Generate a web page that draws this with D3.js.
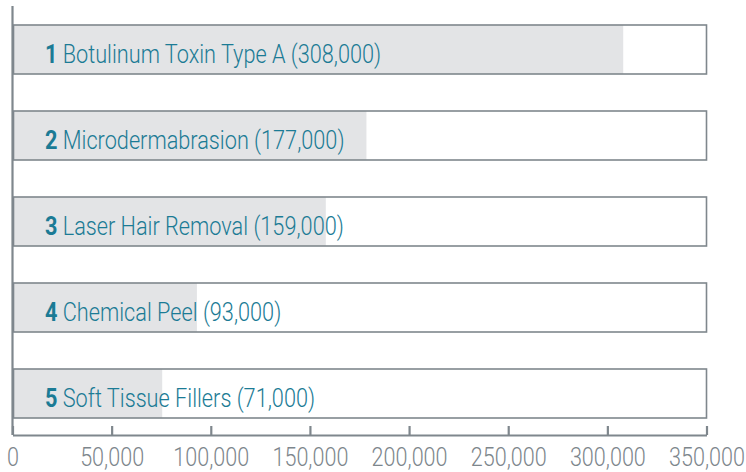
<!DOCTYPE html>
<html>
<head>
<meta charset="utf-8">
<script src="https://cdn.jsdelivr.net/npm/d3@7"></script>
<style>
  html, body { margin: 0; padding: 0; background: #fff; }
  svg { display: block; }
  text { font-family: "Roboto", "Liberation Sans", sans-serif; }
</style>
</head>
<body>
<svg id="chart" width="746" height="472"></svg>
<script>
// ---- data ----
const ranks = ["1", "2", "3", "4", "5"];
const procedures = ["Botulinum Toxin Type A", "Microdermabrasion", "Laser Hair Removal", "Chemical Peel", "Soft Tissue Fillers"];
const labelValues = [308000, 177000, 159000, 93000, 71000];
const barValues = [308000, 178500, 158000, 93000, 75500];
const tickValues = [0, 50000, 100000, 150000, 200000, 250000, 300000, 350000];

// ---- layout ----
const svg = d3.select("#chart");
const x0 = 12.5, x1 = 706.5, axisY = 435;
const squeeze = 0.83;
const labelSqueeze = 0.835;
const x = d3.scaleLinear().domain([0, 350000]).range([x0, x1]);
const y = d3.scaleBand().domain(ranks).range([25, 418]).paddingInner(37 / 86).paddingOuter(0);

const border = "#7f878d";
const fill = "#e3e4e6";
const teal = "#1b7b95";
const fmt = d3.format(",");

const rows = svg.append("g").selectAll("g").data(ranks).join("g");

rows.append("rect")
  .attr("x", x(0) + 1)
  .attr("y", d => y(d))
  .attr("width", x(350000) - x(0) - 1)
  .attr("height", y.bandwidth())
  .attr("fill", "#fff");

rows.append("rect")
  .attr("x", x(0) + 1)
  .attr("y", d => y(d))
  .attr("width", (d, i) => x(barValues[i]) - x(0) - 1)
  .attr("height", y.bandwidth())
  .attr("fill", fill);

rows.append("rect")
  .attr("x", x(0) + 1)
  .attr("y", d => y(d))
  .attr("width", x(350000) - x(0) - 1)
  .attr("height", y.bandwidth())
  .attr("fill", "none")
  .attr("stroke", border)
  .attr("stroke-width", 1.6);

const labels = rows.append("text")
  .attr("transform", d => `translate(45,${y(d) + 38}) scale(${labelSqueeze},1)`)
  .attr("fill", teal)
  .attr("font-size", 26);
labels.append("tspan").attr("font-weight", "bold").text(d => d);
labels.append("tspan").attr("font-weight", 300).text((d, i) => " " + procedures[i] + " (" + fmt(labelValues[i]) + ")");

// vertical axis line
svg.append("line")
  .attr("x1", x(0)).attr("x2", x(0))
  .attr("y1", 6).attr("y2", axisY)
  .attr("stroke", border).attr("stroke-width", 2.2);

// bottom axis
const axis = d3.axisBottom(x).tickValues(tickValues).tickFormat(fmt).tickSize(-9).tickSizeOuter(0);
const gAxis = svg.append("g").attr("transform", `translate(0,${axisY})`).call(axis);
gAxis.select(".domain").attr("stroke", border).attr("stroke-width", 2.2);
gAxis.selectAll(".tick line").attr("stroke", border).attr("stroke-width", 2.2);
gAxis.selectAll(".tick text")
  .attr("fill", "#7d868c")
  .attr("font-size", 26)
  .attr("font-weight", 300)
  .attr("font-family", '"Roboto", "Liberation Sans", sans-serif')
  .attr("y", 31)
  .attr("dy", 0)
  .attr("transform", `scale(${squeeze},1)`);
</script>
</body>
</html>
